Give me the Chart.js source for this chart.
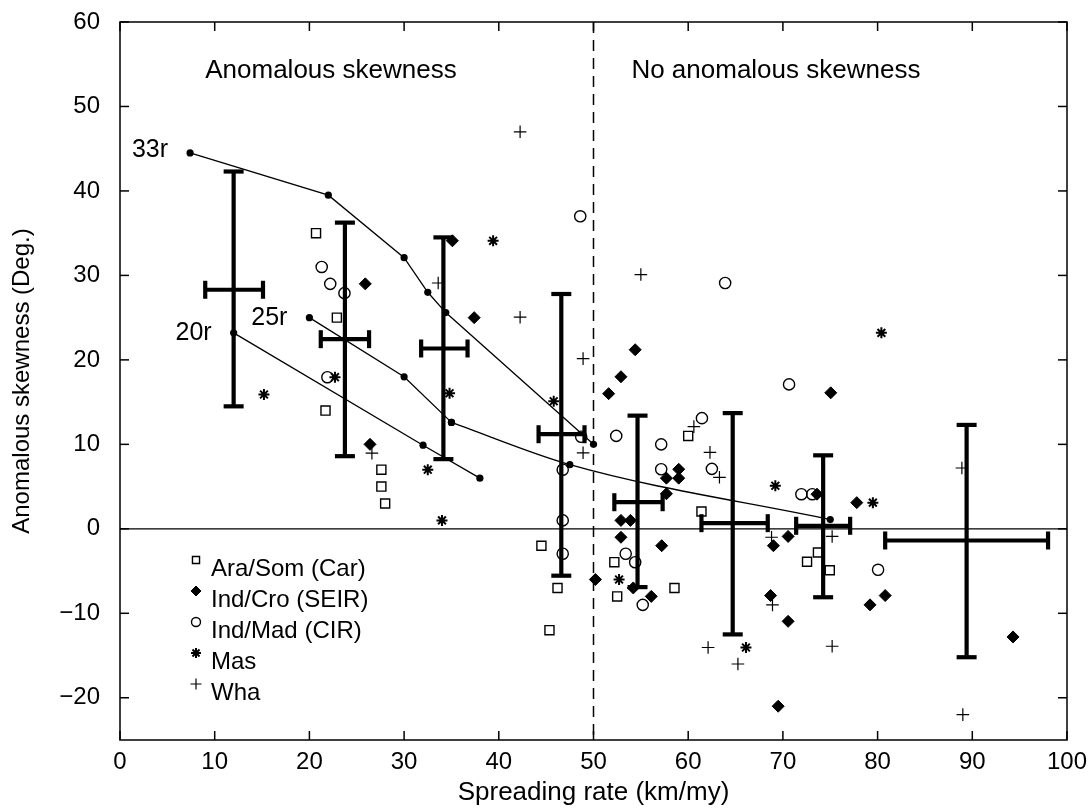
<!DOCTYPE html>
<html>
<head>
<meta charset="utf-8">
<title>Anomalous skewness vs spreading rate</title>
<script src="https://cdn.jsdelivr.net/npm/chart.js@4.4.1/dist/chart.umd.min.js"></script>
<style>
  html, body { margin: 0; padding: 0; background: #fff; }
  #wrap { width: 1091px; height: 812px; }
</style>
</head>
<body>
<div id="wrap"><canvas id="skewChart" width="1091" height="812"></canvas></div>
<script>
// axis ticks
const xTicks = [0, 10, 20, 30, 40, 50, 60, 70, 80, 90, 100];
const yTicks = [-20, -10, 0, 10, 20, 30, 40, 50, 60];

// observations [spreading rate, skewness]
const araSom = [[20.7, 35.0], [22.9, 25.0], [21.7, 14.0], [27.6, 7.0], [27.6, 5.0], [28.0, 3.0],
  [44.5, -2.0], [46.2, -7.0], [45.35, -12.0], [52.2, -3.95], [52.5, -8.0], [58.55, -7.0],
  [60.0, 11.0], [61.4, 2.05], [73.7, -2.8], [72.55, -3.9], [74.95, -4.9]];
const indCro = [[25.9, 29.0], [26.4, 10.0], [35.1, 34.1], [37.4, 25.0], [54.4, 21.2], [52.9, 18.0],
  [51.6, 16.0], [57.7, 6.0], [59.0, 7.05], [59.0, 6.0], [57.7, 4.15], [52.9, 1.0], [53.9, 1.0],
  [52.9, -1.0], [57.2, -2.0], [50.2, -6.0], [54.2, -7.0], [56.1, -8.0], [75.05, 16.1], [73.6, 4.1],
  [77.8, 3.1], [70.55, -0.9], [69.0, -2.0], [68.7, -7.9], [70.55, -10.95], [79.2, -9.0],
  [80.8, -7.9], [69.5, -21.0], [94.3, -12.8]];
const indMad = [[21.3, 31.0], [22.2, 29.0], [23.7, 27.9], [21.9, 17.95], [48.6, 37.0], [48.7, 10.9],
  [52.4, 11.0], [57.15, 10.0], [61.45, 13.1], [62.5, 7.1], [57.15, 7.05], [46.75, 7.0], [46.75, 1.0],
  [46.75, -2.95], [53.4, -2.95], [54.4, -3.95], [55.2, -9.0], [63.9, 29.1], [70.65, 17.1],
  [71.95, 4.1], [73.1, 4.1], [80.05, -4.85]];
const mas = [[15.2, 15.9], [22.7, 17.95], [32.5, 7.0], [34.0, 1.0], [34.8, 16.05], [39.4, 34.1],
  [45.8, 15.1], [52.7, -6.0], [66.1, -14.05], [69.2, 5.1], [79.5, 3.1], [80.4, 23.2]];
const wha = [[33.6, 29.1], [42.25, 47.0], [42.25, 25.05], [48.9, 20.15], [48.9, 9.0], [55.0, 30.1],
  [26.6, 8.95], [60.6, 12.1], [62.3, 9.05], [63.3, 6.1], [62.1, -14.05], [65.25, -16.0], [68.8, -1.0],
  [68.9, -9.0], [75.2, -0.9], [75.2, -13.9], [88.9, 7.2], [89.0, -22.0]];

// model curves
const curve33r = [[7.4, 44.5], [22.0, 39.5], [30.0, 32.1], [32.5, 28.0], [34.4, 25.6], [50.0, 10.0]];
const curve25r = [[20.0, 25.0], [30.0, 18.0], [35.0, 12.6], [47.5, 7.6], [75.0, 1.1]];
const curve20r = [[12.0, 23.2], [32.0, 9.9], [38.0, 6.0]];
const curveNames = ['33r', '25r', '20r'];

// binned means with ranges
const ebX = [12.0, 23.75, 34.15, 46.6, 54.65, 64.7, 74.25, 89.4];
const ebY = [28.3, 22.45, 21.35, 11.2, 3.15, 0.67, 0.36, -1.38];
const ebXLow = [9.0, 21.2, 31.8, 44.2, 52.2, 61.4, 71.4, 80.8];
const ebXHigh = [15.1, 26.3, 36.7, 49.05, 57.3, 68.4, 77.1, 98.0];
const ebYLow = [14.5, 8.6, 8.25, -5.55, -6.9, -12.5, -8.1, -15.2];
const ebYHigh = [42.3, 36.25, 34.5, 27.8, 13.4, 13.7, 8.7, 12.3];

// region labels
const regionNames = ['Anomalous skewness', 'No anomalous skewness'];
const regionX = [9.0, 54.0];
const regionY = [54.2, 54.2];

const dividerX = 50;
const FONT = '"Liberation Sans", Arial, Helvetica, sans-serif';

const pts = (arr) => arr.map(([x, y]) => ({ x, y }));

const markerSeries = [
  { label: 'Ara/Som (Car)', data: araSom, style: 'rect', r: 6.4, fill: 'rgba(0,0,0,0)', bw: 1.4, lr: 5 },
  { label: 'Ind/Cro (SEIR)', data: indCro, style: 'rectRot', r: 6, fill: '#000', bw: 1, lr: 5 },
  { label: 'Ind/Mad (CIR)', data: indMad, style: 'circle', r: 5.6, fill: 'rgba(0,0,0,0)', bw: 1.4, lr: 4.5 },
  { label: 'Mas', data: mas, style: 'star', r: 5.5, fill: '#000', bw: 2, lr: 5 },
  { label: 'Wha', data: wha, style: 'cross', r: 6.3, fill: '#000', bw: 1.2, lr: 5.5 },
];

const datasets = markerSeries.map((s) => ({
  label: s.label,
  data: pts(s.data),
  pointStyle: s.style,
  pointRadius: s.r,
  pointBackgroundColor: s.fill,
  pointBorderColor: '#000',
  pointBorderWidth: s.bw,
  showLine: false,
}));

// curve pieces: straight segments, except the smooth tail of 25r
const curvePieces = [
  { data: curve33r, smooth: false },
  { data: curve25r.slice(0, 3), smooth: false },
  { data: curve25r.slice(2), smooth: true },
  { data: curve20r, smooth: false },
];
curvePieces.forEach((c) => {
  datasets.push({
    data: pts(c.data),
    showLine: true,
    borderColor: '#000',
    borderWidth: 1.3,
    pointRadius: 3.6,
    pointBackgroundColor: '#000',
    pointBorderWidth: 0,
    tension: 0,
    cubicInterpolationMode: c.smooth ? 'monotone' : 'default',
  });
});

function line(ctx, x1, y1, x2, y2) {
  ctx.beginPath();
  ctx.moveTo(x1, y1);
  ctx.lineTo(x2, y2);
  ctx.stroke();
}

const decorations = {
  id: 'decorations',
  beforeDatasetsDraw(chart) {
    const { ctx, chartArea: a, scales: { x, y } } = chart;
    ctx.save();
    ctx.strokeStyle = '#000';
    ctx.lineWidth = 1.3;
    const y0 = y.getPixelForValue(0);
    line(ctx, a.left, y0, a.right, y0);
    // dashed divider between the two regimes
    ctx.setLineDash([11, 7]);
    ctx.lineWidth = 1.5;
    const xd = x.getPixelForValue(dividerX);
    line(ctx, xd, a.top, xd, a.bottom);
    ctx.restore();
  },
  afterDatasetsDraw(chart) {
    const { ctx, chartArea: a, scales: { x, y } } = chart;
    ctx.save();
    ctx.strokeStyle = '#000';
    ctx.fillStyle = '#000';

    // error crosses
    ctx.lineWidth = 4.2;
    ctx.lineCap = 'butt';
    ebX.forEach((v, i) => {
      const px = x.getPixelForValue(v);
      const py = y.getPixelForValue(ebY[i]);
      const top = y.getPixelForValue(ebYHigh[i]);
      const bot = y.getPixelForValue(ebYLow[i]);
      const l = x.getPixelForValue(ebXLow[i]);
      const r = x.getPixelForValue(ebXHigh[i]);
      line(ctx, px, top, px, bot);
      line(ctx, l, py, r, py);
      line(ctx, px - 10, top, px + 10, top);
      line(ctx, px - 10, bot, px + 10, bot);
      line(ctx, l, py - 9, l, py + 9);
      line(ctx, r, py - 9, r, py + 9);
    });

    // frame and inward ticks
    ctx.lineWidth = 1.5;
    ctx.strokeRect(a.left, a.top, a.right - a.left, a.bottom - a.top);
    const tl = 9;
    xTicks.forEach((v) => {
      const px = x.getPixelForValue(v);
      line(ctx, px, a.bottom, px, a.bottom - tl);
      line(ctx, px, a.top, px, a.top + tl);
    });
    yTicks.forEach((v) => {
      const py = y.getPixelForValue(v);
      line(ctx, a.left, py, a.left + tl, py);
      line(ctx, a.right, py, a.right - tl, py);
    });

    // region labels
    ctx.font = '26px ' + FONT;
    ctx.textBaseline = 'middle';
    ctx.textAlign = 'left';
    regionNames.forEach((t, i) => {
      ctx.fillText(t, x.getPixelForValue(regionX[i]), y.getPixelForValue(regionY[i]));
    });

    // curve labels, left of the first dot
    ctx.font = '25px ' + FONT;
    ctx.textAlign = 'right';
    [curve33r, curve25r, curve20r].forEach((c, i) => {
      const px = x.getPixelForValue(c[0][0]);
      const py = y.getPixelForValue(c[0][1]);
      ctx.fillText(curveNames[i], px - 22, py - (i === 0 ? 3 : 0));
    });

    // legend
    ctx.textAlign = 'left';
    ctx.font = '24px ' + FONT;
    const drawPoint = Chart.helpers && Chart.helpers.drawPoint;
    markerSeries.forEach((s, i) => {
      const ty = 569 + i * 31;
      if (drawPoint) {
        ctx.fillStyle = s.fill;
        ctx.strokeStyle = '#000';
        ctx.lineWidth = s.bw;
        drawPoint(ctx, { pointStyle: s.style, radius: s.lr, rotation: 0, borderWidth: s.bw }, a.left + 76, ty - 9);
      }
      ctx.fillStyle = '#000';
      ctx.fillText(s.label, a.left + 91, ty);
    });
    ctx.restore();
  },
};

new Chart(document.getElementById('skewChart'), {
  type: 'scatter',
  data: { datasets },
  options: {
    responsive: false,
    animation: false,
    devicePixelRatio: 1,
    layout: { padding: { top: 22, right: 24, left: 0, bottom: 0 } },
    plugins: { legend: { display: false }, tooltip: { enabled: false } },
    scales: {
      x: {
        type: 'linear',
        min: 0,
        max: 100,
        afterBuildTicks: (s) => { s.ticks = xTicks.map((v) => ({ value: v })); },
        afterFit: (s) => { s.height = 72; s.paddingLeft = 0; s.paddingRight = 0; },
        ticks: { color: '#000', padding: 8, font: { family: FONT, size: 24 } },
        grid: { display: false, drawTicks: false },
        border: { display: false },
        title: {
          display: true,
          text: 'Spreading rate (km/my)',
          color: '#000',
          font: { family: FONT, size: 26 },
          padding: { top: 0, bottom: 4 },
        },
      },
      y: {
        type: 'linear',
        min: -25,
        max: 60,
        afterBuildTicks: (s) => { s.ticks = yTicks.map((v) => ({ value: v })); },
        afterFit: (s) => { s.width = 120; s.paddingTop = 0; s.paddingBottom = 0; },
        ticks: {
          color: '#000',
          padding: 20,
          font: { family: FONT, size: 24 },
          callback: (v) => (v < 0 ? '\u2212' + Math.abs(v) : String(v)),
        },
        grid: { display: false, drawTicks: false },
        border: { display: false },
        title: {
          display: true,
          text: 'Anomalous skewness (Deg.)',
          color: '#000',
          font: { family: FONT, size: 24 },
          padding: { top: 8, bottom: 0 },
        },
      },
    },
  },
  plugins: [decorations],
});
</script>
</body>
</html>
